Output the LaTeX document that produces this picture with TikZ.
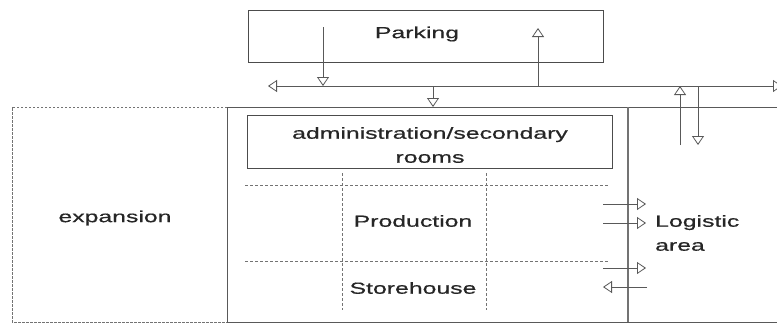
\documentclass[tikz,border=0pt]{standalone}
\usepackage{fontspec}
\setmainfont{Liberation Sans}[FakeStretch=1.55,FakeBold=0.6]
\usetikzlibrary{arrows.meta}
\begin{document}
\begin{tikzpicture}[x=1pt,y=-1pt,
  tip/.tip={Triangle[open,length=9pt,width=12pt,line width=0.8pt]},
  line/.style={draw=black!65, line width=0.8pt},
  oarrow/.style={line, -tip},
  boxed/.style={draw=black!70, line width=0.9pt, rectangle, inner sep=0pt},
  lbl/.style={font=\fontsize{16}{24}\selectfont, text=black!85, inner sep=0pt},
  dline/.style={draw=black!55, line width=0.8pt, dash pattern=on 3pt off 2pt},
  dframe/.style={draw=black!55, line width=1pt, dash pattern=on 2.5pt off 1.5pt}]
\useasboundingbox (0,0) rectangle (777,324);

% boxes
\node[boxed, minimum width=355pt, minimum height=52pt] (parking) at (425.5,36) {};
\node[lbl] (parkingtext) at (417,34) {Parking};
\node[boxed, minimum width=365pt, minimum height=53pt] (admin) at (429.5,141.5) {};
\node[lbl, align=center] (admintext) at (430,145) {administration/secondary\\rooms};

% frame
\coordinate (eTL) at (12,107);
\coordinate (mTL) at (227,107);
\coordinate (mBL) at (227,322);
\coordinate (eBL) at (12,322);
\coordinate (rT) at (777,107);
\coordinate (rB) at (777,322);
\coordinate (lT) at (628,107);
\coordinate (lB) at (628,322);
\draw[dframe] (mTL) -- (eTL) -- (eBL) -- (mBL);
\draw[line, line width=1pt] (rT) -- (mTL) -- (mBL) -- (rB);
\draw[line, line width=1.4pt, draw=black!55] (lT) -- (lB);

% dashed grid
\coordinate (h1a) at (245,185); \coordinate (h1b) at (608,185);
\coordinate (h2a) at (245,261); \coordinate (h2b) at (608,261);
\coordinate (v1a) at (342,173); \coordinate (v1b) at (342,310);
\coordinate (v2a) at (486,173); \coordinate (v2b) at (486,310);
\draw[dline] (h1a) -- (h1b);
\draw[dline] (h2a) -- (h2b);
\draw[dline] (v1a) -- (v1b);
\draw[dline] (v2a) -- (v2b);

% labels
\node[lbl] (expansion) at (115,218) {expansion};
\node[lbl] (production) at (413,221) {Production};
\node[lbl] (storehouse) at (413,288) {Storehouse};
\node[lbl, align=left, anchor=west] (logistic) at (655,233) {Logistic\\area};

% bus line
\coordinate (busL) at (268,86);
\coordinate (busR) at (782,86);
\draw[line, tip-tip] (busR) -- (busL);

% vertical arrows
\coordinate (p1s) at (323,27); \coordinate (p1e) at (323,86);
\coordinate (p2s) at (538,86); \coordinate (p2e) at (538,28);
\coordinate (p3s) at (433,86); \coordinate (p3e) at (433,107);
\coordinate (p4s) at (680,145); \coordinate (p4e) at (680,86);
\coordinate (p5s) at (698,86); \coordinate (p5e) at (698,145);
\draw[oarrow] (p1s) -- (p1e);
\draw[oarrow] (p2s) -- (p2e);
\draw[oarrow] (p3s) -- (p3e);
\draw[oarrow] (p4s) -- (p4e);
\draw[oarrow] (p5s) -- (p5e);

% logistic arrows
\coordinate (a1s) at (603,204); \coordinate (a1e) at (646,204);
\coordinate (a2s) at (603,223); \coordinate (a2e) at (646,223);
\coordinate (a3s) at (603,268); \coordinate (a3e) at (646,268);
\coordinate (a4s) at (647,287); \coordinate (a4e) at (603,287);
\draw[oarrow] (a1s) -- (a1e);
\draw[oarrow] (a2s) -- (a2e);
\draw[oarrow] (a3s) -- (a3e);
\draw[oarrow] (a4s) -- (a4e);
\end{tikzpicture}
\end{document}
